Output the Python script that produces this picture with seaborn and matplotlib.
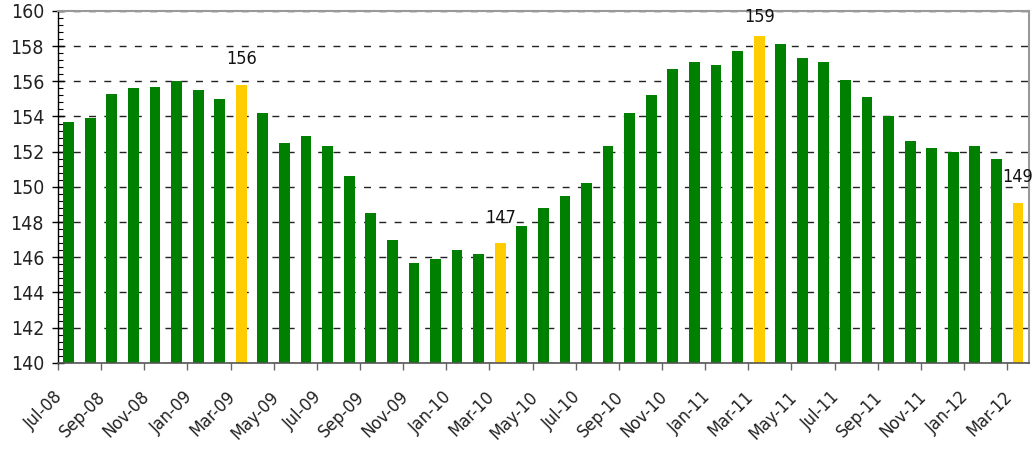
import matplotlib
matplotlib.use('Agg')
import matplotlib.pyplot as plt
import matplotlib.transforms as mtransforms
from matplotlib.ticker import MultipleLocator, FixedLocator
import seaborn as sns
import numpy as np

# months Jul-08 .. Mar-12
months = ['Jul-08', 'Aug-08', 'Sep-08', 'Oct-08', 'Nov-08', 'Dec-08',
          'Jan-09', 'Feb-09', 'Mar-09', 'Apr-09', 'May-09', 'Jun-09',
          'Jul-09', 'Aug-09', 'Sep-09', 'Oct-09', 'Nov-09', 'Dec-09',
          'Jan-10', 'Feb-10', 'Mar-10', 'Apr-10', 'May-10', 'Jun-10',
          'Jul-10', 'Aug-10', 'Sep-10', 'Oct-10', 'Nov-10', 'Dec-10',
          'Jan-11', 'Feb-11', 'Mar-11', 'Apr-11', 'May-11', 'Jun-11',
          'Jul-11', 'Aug-11', 'Sep-11', 'Oct-11', 'Nov-11', 'Dec-11',
          'Jan-12', 'Feb-12', 'Mar-12']
values = [153.7, 153.9, 155.3, 155.6, 155.7, 156.0,
          155.5, 155.0, 155.8, 154.2, 152.5, 152.9,
          152.3, 150.6, 148.5, 147.0, 145.7, 145.9,
          146.4, 146.2, 146.8, 147.8, 148.8, 149.5,
          150.2, 152.3, 154.2, 155.2, 156.7, 157.1,
          156.9, 157.7, 158.6, 158.1, 157.3, 157.1,
          156.1, 155.1, 154.0, 152.6, 152.2, 152.0,
          152.3, 151.6, 149.1]
# March bars are highlighted and labelled
highlight = [m.startswith('Mar') for m in months]

green = '#008000'
yellow = '#FFCC00'
colors = [yellow if h else green for h in highlight]

y_min, y_max = 140, 160

sns.set_style('white')
plt.rcParams['font.family'] = ['DejaVu Sans']
plt.rcParams['font.stretch'] = 'condensed'

fig = plt.figure(figsize=(10.34, 4.53), dpi=100)
ax = fig.add_axes([0.056, 0.199, 0.939, 0.777])

sns.barplot(x=months, y=values, hue=months, palette=colors, legend=False,
            width=0.5, saturation=1, linewidth=0, ax=ax, zorder=2)

ax.set_ylim(y_min, y_max)
ax.set_xlim(-0.5, len(months) - 0.5)
ax.set_xlabel('')
ax.set_ylabel('')

# y axis: major every 2, minor every 0.4
ax.yaxis.set_major_locator(MultipleLocator(2))
ax.yaxis.set_minor_locator(MultipleLocator(0.4))
ax.tick_params(axis='y', which='major', direction='inout', length=8, width=1,
               color='black', labelsize=14, labelcolor='#222222', pad=6, left=True)
ax.tick_params(axis='y', which='minor', direction='in', length=3.5, width=0.8,
               color='black', left=True)

# dashed gridlines behind bars
ax.set_axisbelow(True)
ax.yaxis.grid(True, which='major', linestyle=(0, (5, 6)), color='#222222', lw=1)
ax.xaxis.grid(False)

# x axis: ticks between every 2nd category, labels on every 2nd category
ax.xaxis.set_major_locator(FixedLocator(np.arange(-0.5, len(months) - 1, 2)))
ax.xaxis.set_minor_locator(FixedLocator(np.arange(0, len(months), 2)))
ax.set_xticklabels([], minor=False)
ax.set_xticklabels(months[::2], minor=True)
ax.tick_params(axis='x', which='major', direction='out', length=5, width=1,
               color='#666666', bottom=True)
ax.tick_params(axis='x', which='minor', length=0, pad=18, labelsize=13,
               labelcolor='#222222', bottom=True)
shift = mtransforms.ScaledTranslation(-15 / 100, 0, fig.dpi_scale_trans)
for lab in ax.get_xticklabels(minor=True):
    lab.set_rotation(45)
    lab.set_ha('right')
    lab.set_va('top')
    lab.set_rotation_mode('anchor')
    lab.set_transform(lab.get_transform() + shift)

# spines
ax.spines['left'].set_color('black')
ax.spines['left'].set_linewidth(1)
ax.spines['bottom'].set_color('#555555')
ax.spines['bottom'].set_linewidth(1.2)
ax.spines['top'].set_color('#999999')
ax.spines['top'].set_linewidth(1.5)
ax.spines['right'].set_color('#999999')
ax.spines['right'].set_linewidth(1.5)

# labels on the March bars, kept inside the plot area
pt_per_unit = ax.get_window_extent().height / (y_max - y_min) * 72 / fig.dpi
for i, (v, h) in enumerate(zip(values, highlight)):
    if h:
        off = min(12, (y_max - v) * pt_per_unit - 11)
        ax.annotate(f'{v:.0f}', xy=(i, v), xytext=(0, off), textcoords='offset points',
                    ha='center', va='bottom', fontsize=13, color='#111111',
                    annotation_clip=False)

fig.savefig('out.png', dpi=100)
